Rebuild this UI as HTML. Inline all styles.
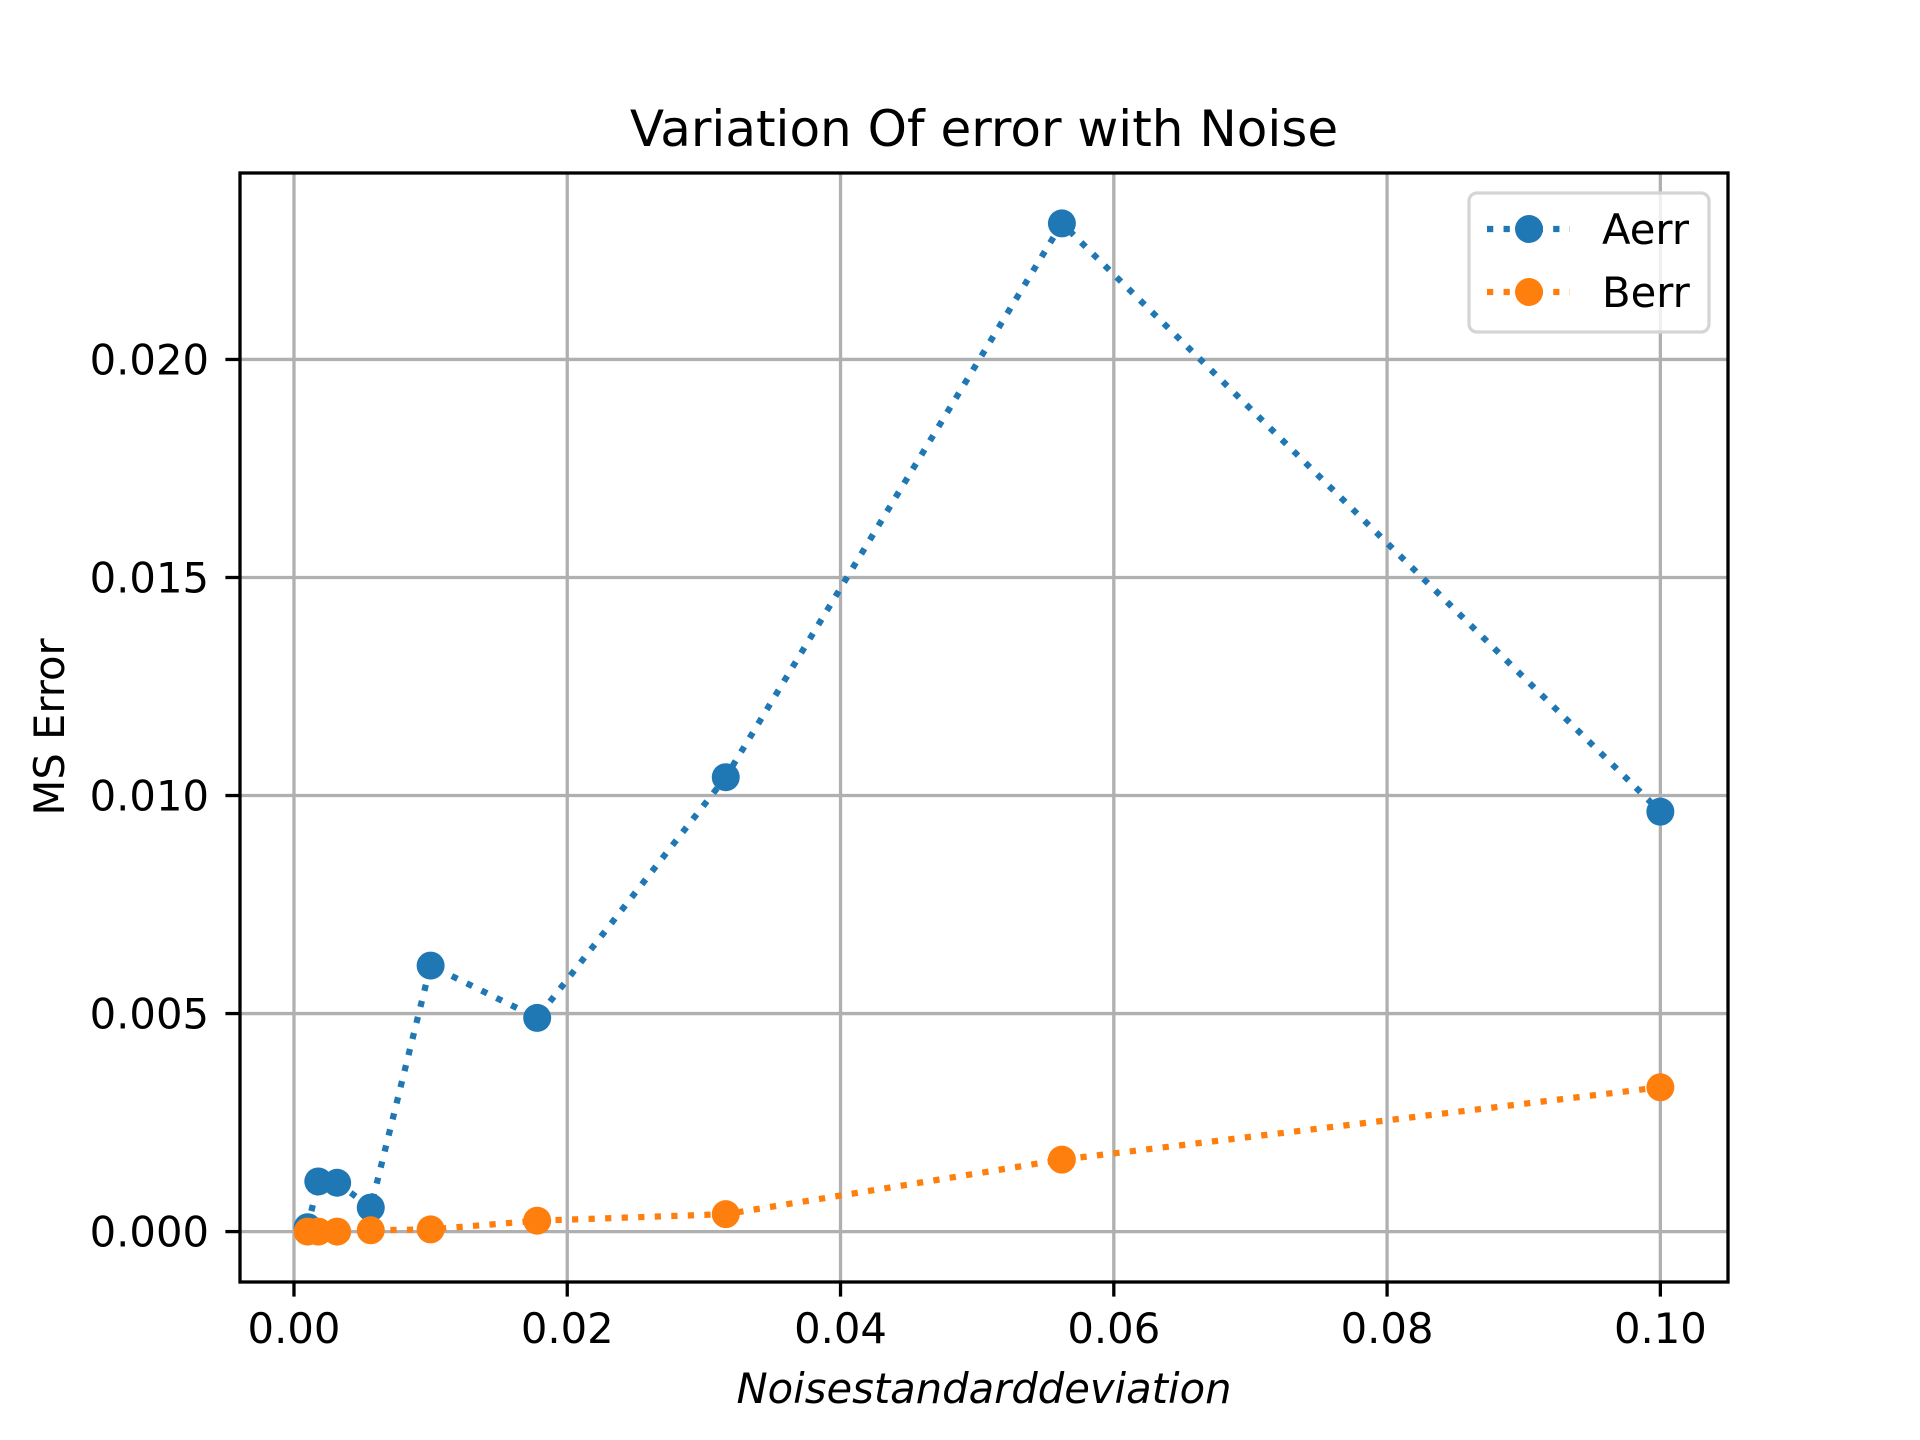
<!DOCTYPE html>
<html><head><meta charset="utf-8"><style>html,body{margin:0;padding:0;background:#fff}svg{display:block}text{font-family:"DejaVu Sans","Liberation Sans",sans-serif;fill:#000}</style></head>
<body>
<svg id="chart" width="1920" height="1440" viewBox="0 0 1920 1440" xmlns="http://www.w3.org/2000/svg">
<rect width="1920" height="1440" fill="#fff"/>
<g id="grid"></g>
<g id="series"></g>
<rect x="240" y="173" width="1488" height="1109" fill="none" stroke="#000" stroke-width="3.3"/>
<g id="ticks"></g>
<text x="984" y="146" font-size="50" text-anchor="middle">Variation Of error with Noise</text>
<text x="984" y="1403" font-size="41.7" font-style="italic" text-anchor="middle">Noisestandarddeviation</text>
<text x="0" y="0" font-size="41.7" text-anchor="middle" transform="translate(64,727) rotate(-90)">MS Error</text>
<g id="legend">
<rect x="1469" y="193" width="240" height="139" rx="8" fill="#fff" fill-opacity="0.8" stroke="#d5d5d5" stroke-width="3.3"/>
<g>
<line x1="1487" y1="229" x2="1570" y2="229" stroke="#1f77b4" stroke-width="6.25" stroke-dasharray="6.25 10.3"/>
<circle cx="1529" cy="229" r="14" fill="#1f77b4"/>
<text x="1602" y="244" font-size="41.7">Aerr</text></g>
<g>
<line x1="1487" y1="292" x2="1570" y2="292" stroke="#ff7f0e" stroke-width="6.25" stroke-dasharray="6.25 10.3"/>
<circle cx="1529" cy="292" r="14" fill="#ff7f0e"/>
<text x="1602" y="307" font-size="41.7">Berr</text></g>
</g>
</svg>
<script>
const noise = [0.001, 0.00178, 0.00316, 0.00562, 0.01, 0.0178, 0.0316, 0.0562, 0.1];
const aerr = [0.0001, 0.00115, 0.00112, 0.00055, 0.0061, 0.0049, 0.01042, 0.02312, 0.00963];
const berr = [0.0, 0.0, 0.0, 0.00003, 0.00005, 0.00025, 0.0004, 0.00165, 0.00331];
const xTicks = [0, 0.02, 0.04, 0.06, 0.08, 0.10];
const xTickLabels = ["0.00", "0.02", "0.04", "0.06", "0.08", "0.10"];
const yTicks = [0, 0.005, 0.01, 0.015, 0.02];
const yTickLabels = ["0.000", "0.005", "0.010", "0.015", "0.020"];

const NS = "http://www.w3.org/2000/svg";
const L = 240, R = 1728, T = 173, B = 1282;
const xmin0 = Math.min(...noise), xmax0 = Math.max(...noise);
const allY = aerr.concat(berr);
const ymin0 = Math.min(...allY), ymax0 = Math.max(...allY);
const xm = (xmax0 - xmin0) * 0.05, ym = (ymax0 - ymin0) * 0.05;
const xmin = xmin0 - xm, xmax = xmax0 + xm, ymin = ymin0 - ym, ymax = ymax0 + ym;
const sx = v => L + (v - xmin) / (xmax - xmin) * (R - L);
const sy = v => B - (v - ymin) / (ymax - ymin) * (B - T);
function mk(tag, attrs, parent) {
  const e = document.createElementNS(NS, tag);
  for (const k in attrs) e.setAttribute(k, attrs[k]);
  parent.appendChild(e);
  return e;
}
const grid = document.getElementById('grid');
const ticks = document.getElementById('ticks');
xTicks.forEach((t, i) => {
  const x = sx(t);
  const g = mk('line', {x1: x, x2: x, y1: T, y2: B, stroke: '#b0b0b0', 'stroke-width': 3.3}, grid);
  
  
  const tk = mk('line', {x1: x, x2: x, y1: B, y2: B + 14.6, stroke: '#000', 'stroke-width': 3.3}, ticks);
  
  
  const tx = mk('text', {x: x, y: 1343, 'font-size': 41.7, 'text-anchor': 'middle'}, ticks);
  tx.textContent = xTickLabels[i];
  
  
});
yTicks.forEach((t, i) => {
  const y = sy(t);
  const g = mk('line', {x1: L, x2: R, y1: y, y2: y, stroke: '#b0b0b0', 'stroke-width': 3.3}, grid);
  
  
  const tk = mk('line', {x1: L - 14.6, x2: L, y1: y, y2: y, stroke: '#000', 'stroke-width': 3.3}, ticks);
  
  
  const tx = mk('text', {x: 209, y: y + 15, 'font-size': 41.7, 'text-anchor': 'end'}, ticks);
  tx.textContent = yTickLabels[i];
  
  
});
const series = document.getElementById('series');
[[aerr, '#1f77b4', 'aerr'], [berr, '#ff7f0e', 'berr']].forEach(([vals, col, nm]) => {
  const pts = noise.map((x, i) => sx(x) + ',' + sy(vals[i])).join(' ');
  const pl = mk('polyline', {points: pts, fill: 'none', stroke: col, 'stroke-width': 6.25, 'stroke-dasharray': '6.25 10.3'}, series);
  
  
  noise.forEach((x, i) => {
    const c = mk('circle', {cx: sx(x), cy: sy(vals[i]), r: 14, fill: col}, series);
    
    
  });
});
</script>
</body></html>
